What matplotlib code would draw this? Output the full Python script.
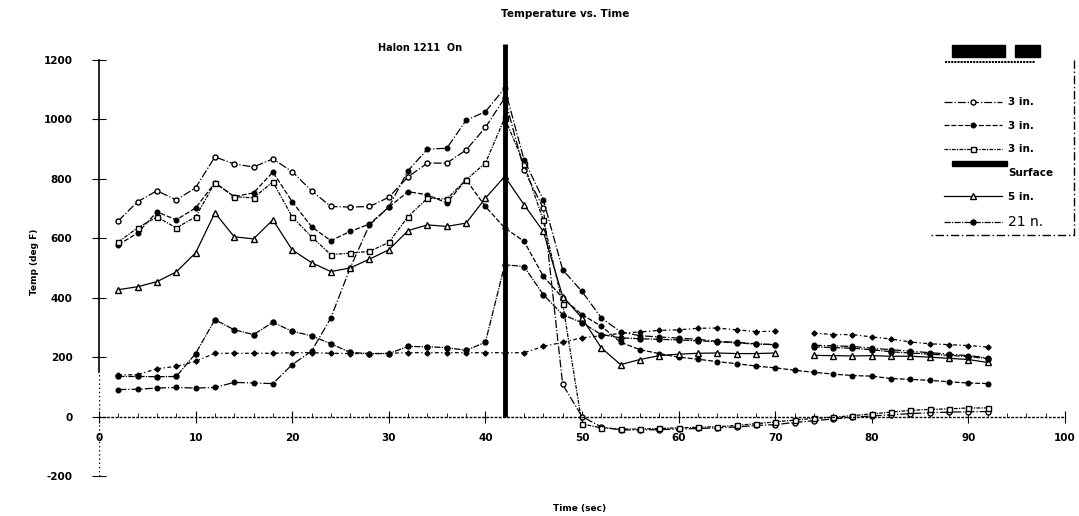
import numpy as np
import matplotlib.pyplot as plt
from matplotlib.lines import Line2D
from matplotlib.patches import Rectangle

plt.rcParams['axes.unicode_minus'] = False

nan = np.nan

# time in seconds, a reading every 2 s
time_sec = np.arange(2, 93, 2)

# temperatures, deg F
t3_circle = [659, 723, 760, 729, 770, 874, 850, 840, 867, 824, 760, 707, 705, 707, 738, 807,
             853, 853, 897, 973, 1072, 830, 701, 108, 0, -35, -45, -45, -44, -42, -40, -38,
             -35, -30, -27, -20, -14, -8, -3, 2, 6, 10, 13, 15, 16, 17]
t3_filled = [578, 618, 689, 662, 702, 787, 740, 753, 823, 723, 639, 592, 623, 648, 705, 757,
             746, 719, 797, 707, 635, 590, 472, 399, 343, 304, 250, 225, 212, 200, 193, 185,
             178, 170, 164, 156, 149, 143, 138, 136, 128, 125, 122, 117, 113, 111]
t3_square = [588, 635, 672, 635, 672, 787, 740, 736, 790, 672, 605, 545, 550, 556, 586, 673,
             735, 732, 797, 853, 1005, 850, 660, 380, -25, -38, -42, -42, -40, -38, -36, -34,
             -30, -24, -18, -12, -6, -2, 3, 9, 15, 21, 24, 26, 29, 29]
t_surface = [91, 92, 96, 98, 96, 98, 115, 113, 111, 175, 220, 332, 500, 645, 705, 828,
             900, 903, 997, 1026, 1105, 864, 729, 494, 421, 332, 285, 272, 268, 264, 260, 253,
             250, 245, 242, nan, 240, 238, 236, 230, 225, 220, 215, 210, 205, 198]
t5 = [427, 437, 454, 487, 551, 686, 605, 598, 662, 561, 518, 488, 500, 530, 561, 626,
      645, 640, 651, 735, 808, 713, 623, 404, 332, 231, 175, 192, 205, 210, 213, 214,
      212, 212, 214, nan, 206, 205, 204, 205, 203, 203, 200, 196, 192, 182]
t21 = [135, 135, 134, 135, 212, 326, 292, 276, 317, 287, 272, 245, 216, 212, 212, 236,
       235, 232, 223, 250, 511, 505, 410, 343, 316, 276, 265, 262, 260, 258, 255, 252,
       248, 244, 242, nan, 235, 232, 230, 225, 218, 214, 210, 206, 202, 195]
t_other = [140, 141, 161, 169, 186, 213, 213, 213, 213, 215, 215, 213, 212, 212, 213, 215,
           215, 215, 215, 215, 215, 215, 236, 250, 265, 272, 280, 285, 290, 292, 297, 298,
           292, 286, 287, nan, 281, 276, 276, 268, 261, 251, 245, 242, 239, 234]

halon_on = 42
legend_labels = ['3 in.', '3 in.', '3 in.', 'Surface', '5 in.', '21 n.']

W, H = 1079, 516
fig = plt.figure(figsize=(W / 100, H / 100), dpi=100)
ax = fig.add_axes([99 / W, 1 - 476 / H, (1065 - 99) / W, (476 - 60) / H])

k = dict(color='black', lw=0.9)
l_a, = ax.plot(time_sec, t3_circle, ls='-.', marker='o', ms=3.6, mfc='white', **k)
l_b, = ax.plot(time_sec, t3_filled, ls=(0, (4, 1.5)), marker='o', ms=3.3, **k)
l_c, = ax.plot(time_sec, t3_square, ls=(0, (3, 1, 1, 1)), marker='s', ms=3.6, mfc='white', **k)
l_s, = ax.plot(time_sec, t_surface, ls='-.', marker='o', ms=3.3, **k)
l_e, = ax.plot(time_sec, t5, ls='-', marker='^', ms=3.8, mfc='white', **k)
l_f, = ax.plot(time_sec, t21, ls=(0, (5, 1, 1, 1)), marker='o', ms=3.6, **k)
l_g, = ax.plot(time_sec, t_other, ls=(0, (3, 2, 1, 2)), marker='D', ms=2.6, **k)

# Halon discharge marker
ax.vlines(halon_on, 0, 1255, color='black', lw=3.5, clip_on=False)
ax.text(halon_on - 8.8, 1240, 'Halon 1211  On', ha='center', va='center',
        fontsize=7, fontweight='bold')

ax.set_xlim(0, 100)
ax.set_ylim(-200, 1200)
for s in ['top', 'right']:
    ax.spines[s].set_visible(False)
ax.spines['bottom'].set_position(('data', 0))
ax.spines['bottom'].set_linestyle((0, (1, 2)))
ax.spines['bottom'].set_linewidth(1)
ax.spines['left'].set_bounds(150, 1200)
ax.spines['left'].set_linewidth(1.2)
ax.axvline(0, ymin=0, ymax=350 / 1400, color='black', ls=(0, (1, 2)), lw=1)

ax.set_xticks(np.arange(0, 101, 10))
ax.set_xticks(np.arange(0, 101, 2), minor=True)
ax.set_yticks(np.arange(-200, 1201, 200))
ax.tick_params(axis='x', which='major', direction='inout', length=8, pad=8, labelsize=7.5)
ax.tick_params(axis='x', which='minor', direction='in', length=3)
ax.tick_params(axis='y', direction='inout', length=10, pad=14, labelsize=7.5)
for lab in ax.get_xticklabels() + ax.get_yticklabels():
    lab.set_fontweight('bold')

fig.text(565 / W, 1 - 14 / H, 'Temperature vs. Time', ha='center', va='center',
         fontsize=7.5, fontweight='bold')
fig.text(580 / W, 1 - 508 / H, 'Time (sec)', ha='center', va='center',
         fontsize=6.5, fontweight='bold')
fig.text(35 / W, 1 - 262 / H, 'Temp (deg F)', ha='center', va='center', rotation=90,
         fontsize=6.5, fontweight='bold')

# legend
blank = Line2D([], [], ls='none')
leg = ax.legend([l_a, l_b, l_c, blank, l_e, l_f], legend_labels, loc='upper left',
                bbox_to_anchor=(935 / W, 1 - 88 / H), bbox_transform=fig.transFigure,
                frameon=False, handlelength=5.5, labelspacing=1.3, numpoints=1,
                prop=dict(size=7.5, weight='bold'), handletextpad=0.6)
leg.get_texts()[-1].set_fontsize(10)
leg.get_texts()[-1].set_fontweight('normal')

# redaction bars and box edges around the legend
for (x0, y0, x1, y1) in [(952, 45, 1005, 57), (1015, 45, 1040, 57), (952, 161, 1007, 166)]:
    fig.add_artist(Rectangle((x0 / W, 1 - y1 / H), (x1 - x0) / W, (y1 - y0) / H,
                             transform=fig.transFigure, color='black'))
fig.add_artist(Line2D([945 / W, 1035 / W], [1 - 62 / H, 1 - 62 / H], color='black',
                      lw=1.5, ls=(0, (1, 0.5)), transform=fig.transFigure))
fig.add_artist(Line2D([1074 / W, 1074 / W, 930 / W], [1 - 60 / H, 1 - 235 / H, 1 - 235 / H],
                      color='black', lw=1, ls=(0, (6, 2, 1, 2)), transform=fig.transFigure))

fig.savefig('out.png', dpi=100)
